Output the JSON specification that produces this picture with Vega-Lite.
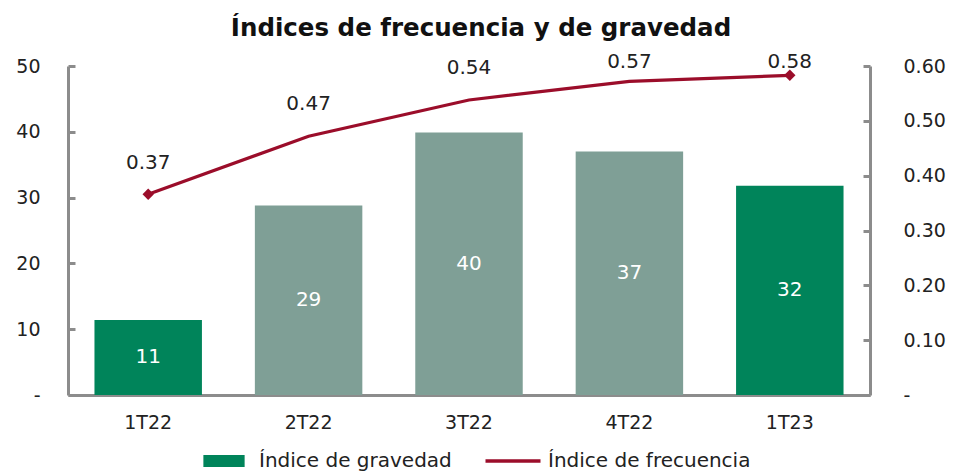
{
  "$schema": "https://vega.github.io/schema/vega-lite/v6.json",
  "width": 802,
  "height": 329,
  "autosize": "none",
  "padding": {"left": 68, "top": 66, "right": 86, "bottom": 77},
  "config": {
    "font": "DejaVu Sans",
    "view": {"stroke": null},
    "axis": {
      "labelFont": "DejaVu Sans",
      "labelFontSize": 19,
      "labelColor": "#222222",
      "domainColor": "#8c8c8c",
      "domainWidth": 3,
      "tickColor": "#8c8c8c",
      "tickWidth": 3,
      "grid": false,
      "title": null
    }
  },
  "title": {
    "text": "Índices de frecuencia y de gravedad",
    "fontSize": 24.5,
    "fontWeight": "bold",
    "color": "#111111",
    "font": "DejaVu Sans",
    "offset": 10,
    "anchor": "middle",
    "dx": 12
  },
  "data": {
    "values": [
      {"trimestre": "1T22", "gravedad": 11.4, "frecuencia": 0.366},
      {"trimestre": "2T22", "gravedad": 28.8, "frecuencia": 0.472},
      {"trimestre": "3T22", "gravedad": 39.9, "frecuencia": 0.538},
      {"trimestre": "4T22", "gravedad": 37.0, "frecuencia": 0.572},
      {"trimestre": "1T23", "gravedad": 31.8, "frecuencia": 0.583}
    ]
  },
  "encoding": {
    "x": {
      "field": "trimestre",
      "type": "nominal",
      "sort": null,
      "scale": {"paddingInner": 0.33, "paddingOuter": 0.165},
      "axis": {"labelAngle": 0, "ticks": false, "labelPadding": 18, "domainWidth": 3}
    }
  },
  "layer": [
    {
      "layer": [
        {
          "mark": {"type": "bar"},
          "encoding": {
            "y": {
              "field": "gravedad",
              "type": "quantitative",
              "scale": {"domain": [0, 50]},
              "axis": {
                "orient": "left",
                "values": [0, 10, 20, 30, 40, 50],
                "tickSize": -7,
                "labelPadding": 35,
                "labelExpr": "datum.value === 0 ? '-' : datum.label",
                "encode": {
                  "labels": {
                    "update": {
                      "dx": {"signal": "datum.value === 0 ? -15 : 0"},
                      "dy": {"signal": "datum.value === 0 ? -5 : 0"}
                    }
                  }
                }
              }
            },
            "color": {
              "condition": {"test": "datum.trimestre === '1T22' || datum.trimestre === '1T23'", "value": "#00845A"},
              "value": "#7F9F96"
            }
          }
        },
        {
          "transform": [{"calculate": "datum.gravedad / 2", "as": "mitad"}],
          "mark": {"type": "text", "color": "white", "fontSize": 20, "baseline": "middle"},
          "encoding": {
            "y": {"field": "mitad", "type": "quantitative"},
            "text": {"field": "gravedad", "type": "quantitative", "format": ".0f"}
          }
        }
      ]
    },
    {
      "layer": [
        {
          "mark": {"type": "line", "strokeWidth": 3.2},
          "encoding": {
            "y": {
              "field": "frecuencia",
              "type": "quantitative",
              "scale": {"domain": [0, 0.6]},
              "axis": {
                "orient": "right",
                "values": [0, 0.1, 0.2, 0.3, 0.4, 0.5, 0.6],
                "tickSize": -7,
                "labelPadding": 40,
                "labelExpr": "datum.value === 0 ? '-' : format(datum.value, '.2f')",
                "encode": {
                  "labels": {
                    "update": {
                      "dy": {"signal": "datum.value === 0 ? -5 : 0"}
                    }
                  }
                }
              }
            },
            "color": {
              "datum": "Índice de frecuencia",
              "type": "nominal",
              "scale": {"domain": ["Índice de gravedad", "Índice de frecuencia"], "range": ["#00845A", "#9B0D2A"]},
              "legend": {
                "orient": "none",
                "legendX": 146,
                "legendY": 385,
                "direction": "horizontal",
                "title": null,
                "labelFont": "DejaVu Sans",
                "labelFontSize": 20,
                "labelColor": "#222222",
                "labelLimit": 400,
                "symbolType": "stroke",
                "symbolSize": 3025,
                "symbolStrokeWidth": 3.5,
                "labelOffset": 25,
                "columnPadding": 26,
                "encode": {
                  "symbols": {
                    "update": {
                      "size": {"value": 3025},
                      "shape": {"signal": "datum.value === 'Índice de gravedad' ? 'M-0.75,-0.22H0.75V0.22H-0.75Z' : 'stroke'"},
                      "fill": {"signal": "datum.value === 'Índice de gravedad' ? '#00845A' : 'transparent'"},
                      "strokeWidth": {"signal": "datum.value === 'Índice de gravedad' ? 0 : 3.5"}
                    }
                  }
                }
              }
            }
          }
        },
        {
          "transform": [{"filter": "datum.trimestre === '1T22' || datum.trimestre === '1T23'"}],
          "mark": {"type": "point", "shape": "diamond", "filled": true, "color": "#9B0D2A", "size": 130, "opacity": 1},
          "encoding": {
            "y": {"field": "frecuencia", "type": "quantitative"}
          }
        },
        {
          "transform": [{"calculate": "min(datum.frecuencia + 0.058, 0.608)", "as": "etiqueta"}],
          "mark": {"type": "text", "color": "#222222", "fontSize": 20, "baseline": "middle"},
          "encoding": {
            "y": {"field": "etiqueta", "type": "quantitative"},
            "text": {"field": "frecuencia", "type": "quantitative", "format": ".2f"}
          }
        }
      ]
    }
  ],
  "resolve": {"scale": {"y": "independent", "color": "independent"}}
}
